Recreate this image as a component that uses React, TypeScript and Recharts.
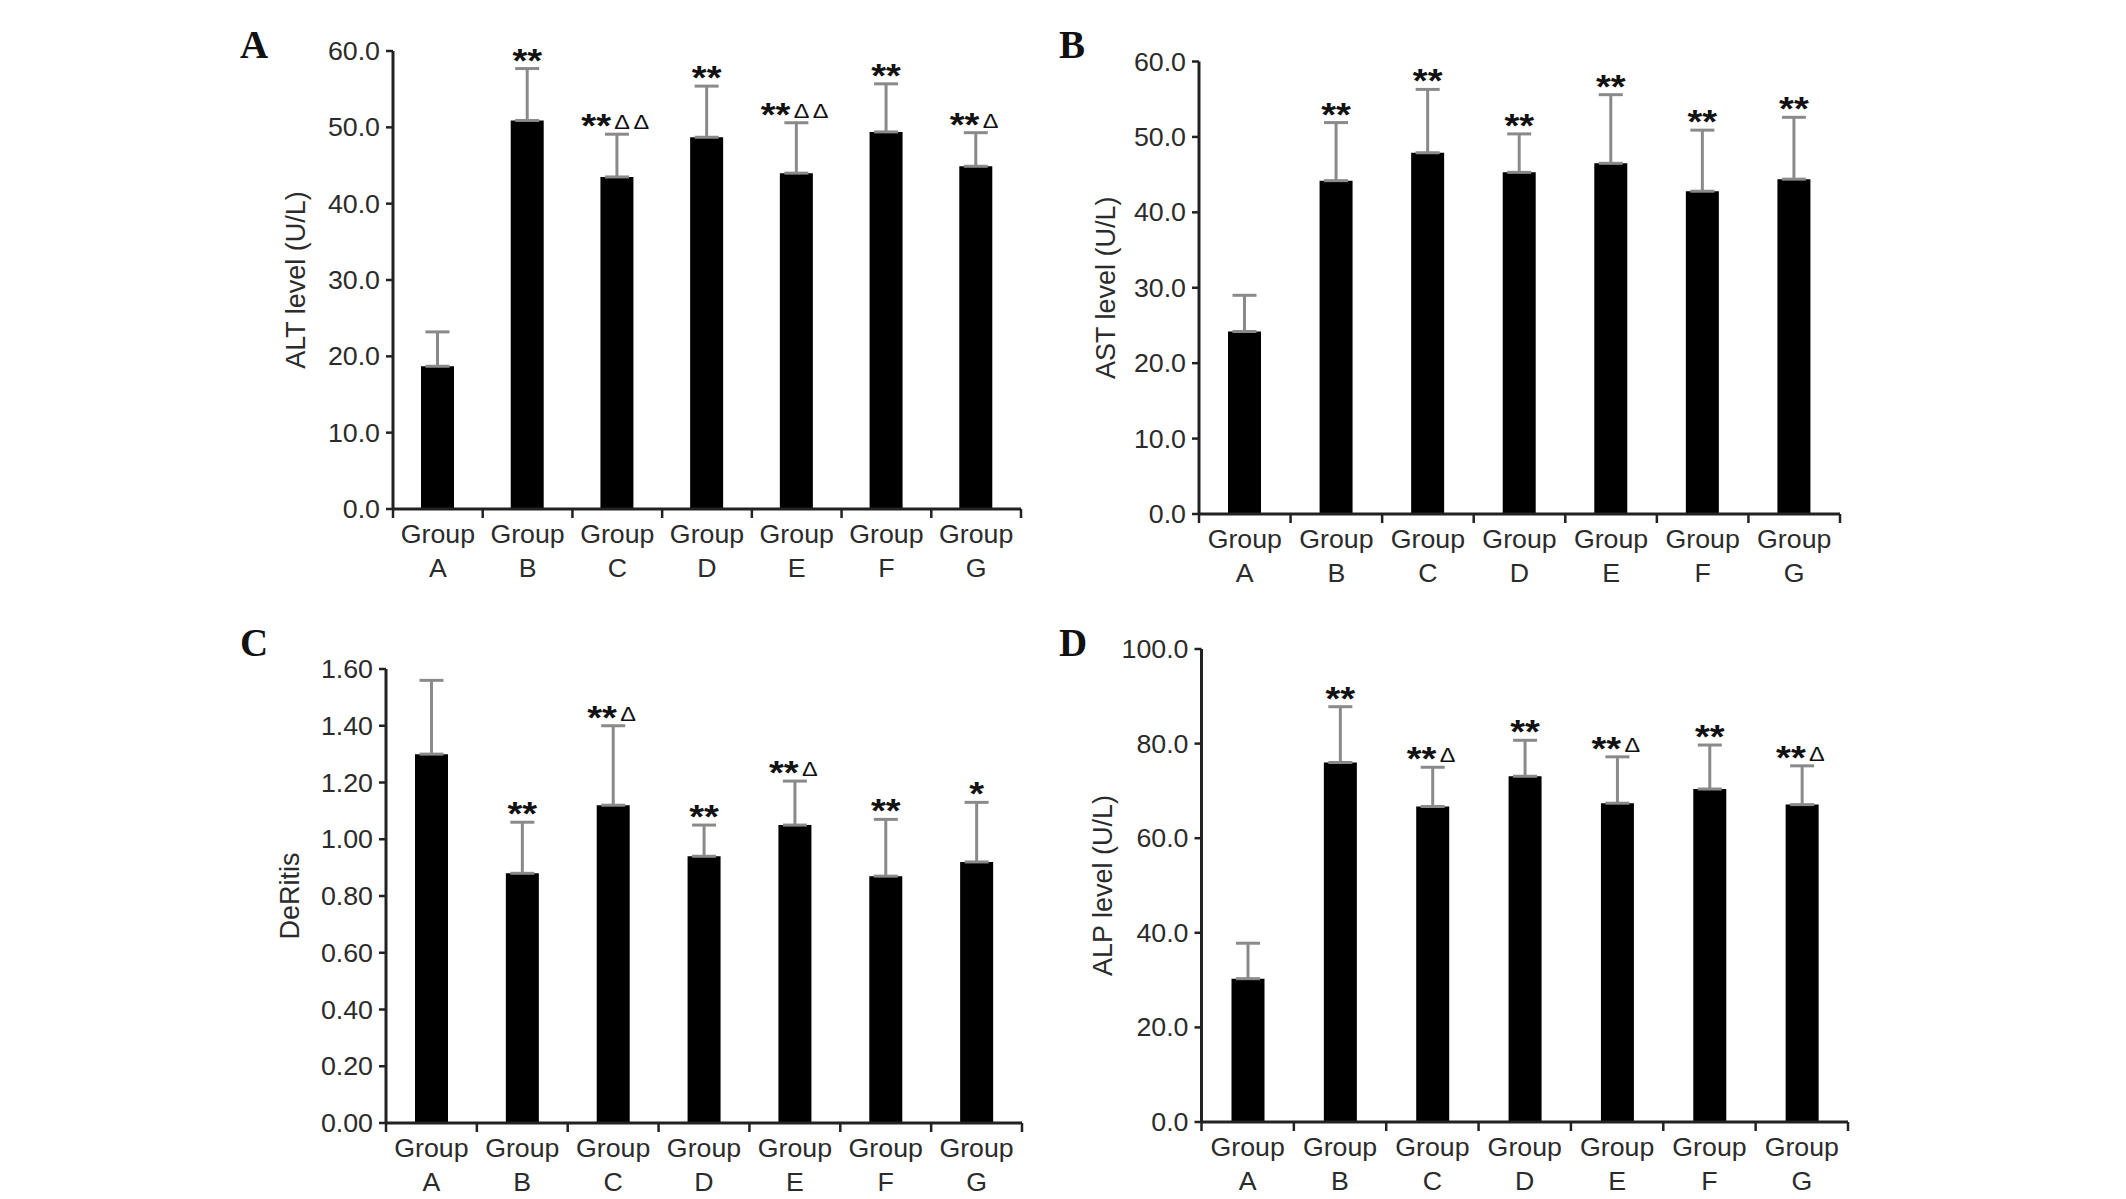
import React from "react"
import { ComposedChart, Bar, ErrorBar, XAxis, YAxis, LabelList } from "recharts"

const GROUPS = ["A", "B", "C", "D", "E", "F", "G"]

const ALT_MEAN = [18.7, 50.9, 43.5, 48.7, 44.0, 49.4, 44.9]
const ALT_SD = [4.5, 6.8, 5.6, 6.7, 6.6, 6.3, 4.4]
const ALT_NOTE = ["", "**", "**ΔΔ", "**", "**ΔΔ", "**", "**Δ"]
const ALT_TICKS = [0, 10, 20, 30, 40, 50, 60]

const AST_MEAN = [24.2, 44.2, 47.9, 45.3, 46.5, 42.8, 44.4]
const AST_SD = [4.8, 7.7, 8.4, 5.1, 9.1, 8.1, 8.2]
const AST_NOTE = ["", "**", "**", "**", "**", "**", "**"]
const AST_TICKS = [0, 10, 20, 30, 40, 50, 60]

const DER_MEAN = [1.3, 0.88, 1.12, 0.94, 1.05, 0.87, 0.92]
const DER_SD = [0.26, 0.18, 0.28, 0.11, 0.155, 0.2, 0.21]
const DER_NOTE = ["", "**", "**Δ", "**", "**Δ", "**", "*"]
const DER_TICKS = [0, 0.2, 0.4, 0.6, 0.8, 1.0, 1.2, 1.4, 1.6]

const ALP_MEAN = [30.3, 76.0, 66.7, 73.1, 67.4, 70.4, 67.1]
const ALP_SD = [7.5, 11.8, 8.3, 7.6, 9.8, 9.3, 8.2]
const ALP_NOTE = ["", "**", "**Δ", "**", "**Δ", "**", "**Δ"]
const ALP_TICKS = [0, 20, 40, 60, 80, 100]

const SANS = "'Liberation Sans', Arial, sans-serif"
const INK = "#2b2b2b"
const AXIS = "#222"

function YTick({ x, y, payload, digits }: any) {
  return (
    <g transform={`translate(${x},${y})`}>
      <text transform="scale(1.05,1)" textAnchor="end" dy={9} fontSize={25.5} fill={INK} fontFamily={SANS}>
        {Number(payload.value).toFixed(digits)}
      </text>
    </g>
  )
}

// category label in two lines, plus tick marks on the group boundaries
function XTick(props: any) {
  const { x, y, payload, index, visibleTicksCount } = props
  const half = payload.offset || 0
  const last = index === visibleTicksCount - 1
  return (
    <g transform={`translate(${x},${y})`}>
      <line x1={-half} y1={0} x2={-half} y2={9} stroke={AXIS} strokeWidth={2.5} />
      {last && <line x1={half} y1={0} x2={half} y2={9} stroke={AXIS} strokeWidth={2.5} />}
      <text transform="scale(1.07,1)" textAnchor="middle" fontSize={25} fill={INK} fontFamily={SANS}>
        <tspan x={0} y={34}>Group</tspan>
        <tspan x={0} y={68}>{payload.value}</tspan>
      </text>
    </g>
  )
}

function makeNote(means: number[], sds: number[]) {
  return (props: any) => {
    const vb = props.viewBox && props.viewBox.width != null ? props.viewBox : props
    const { x, y, width, height } = vb
    const i = props.index
    const note: string = props.value || ""
    if (!note || i == null) return null
    const errTop = y - (sds[i] * height) / means[i]
    const stars = note.replace(/Δ/g, "")
    const deltas = note.replace(/\*/g, "")
    return (
      <g transform={`translate(${x + width / 2},${errTop + 3})`}>
        <text transform="scale(1.12,1)" textAnchor="middle" fontFamily={SANS} fill="#111">
          <tspan fontSize={34} fontWeight="bold">{stars}</tspan>
          {deltas && (
            <tspan fontSize={21} dy={-8} dx={3} letterSpacing={3}>
              {deltas}
            </tspan>
          )}
        </text>
      </g>
    )
  }
}

type Plot = { l: number; t: number; r: number; b: number }

function Panel({
  means,
  sds,
  notes,
  ticks,
  digits,
  title,
  left,
  top,
  plot,
  titleX,
}: {
  means: number[]
  sds: number[]
  notes: string[]
  ticks: number[]
  digits: number
  title: string
  left: number
  top: number
  plot: Plot
  titleX: number
}) {
  const data = GROUPS.map((g, i) => ({ group: g, mean: means[i], err: [0, sds[i]], note: notes[i] }))
  const width = plot.r - left + 20
  const height = plot.b - top + 80

  return (
    <div style={{ position: "absolute", left, top, width, height }}>
      <ComposedChart
        width={width}
        height={height}
        data={data}
        margin={{ top: plot.t - top, right: 20, bottom: 0, left: 0 }}
      >
        <XAxis
          dataKey="group"
          type="category"
          interval={0}
          axisLine={{ stroke: AXIS, strokeWidth: 3 }}
          tickLine={false}
          tickSize={0}
          tickMargin={0}
          height={80}
          tick={XTick}
        />
        <YAxis
          type="number"
          domain={[0, ticks[ticks.length - 1]]}
          ticks={ticks}
          interval={0}
          width={plot.l - left}
          tickSize={7}
          tickMargin={6}
          axisLine={{ stroke: AXIS, strokeWidth: 3 }}
          tickLine={{ stroke: AXIS, strokeWidth: 2.5 }}
          tick={(p: any) => <YTick {...p} digits={digits} />}
          label={{
            value: title,
            angle: -90,
            position: "insideLeft",
            offset: titleX - left,
            style: { textAnchor: "middle", fontSize: 27, fill: INK, fontFamily: SANS },
          }}
        />
        <Bar dataKey="mean" fill="#000" barSize={33} isAnimationActive={false}>
          <ErrorBar dataKey="err" direction="y" width={12} stroke="#8a8a8a" strokeWidth={3} />
          <LabelList dataKey="note" content={makeNote(means, sds)} />
        </Bar>
      </ComposedChart>
    </div>
  )
}

const LETTER = { fontFamily: "'Liberation Serif', 'Times New Roman', serif", fontWeight: "bold" as const, fontSize: 39, fill: "#111" }

export default function App() {
  return (
    <div style={{ position: "absolute", left: 0, top: 0, width: 2126, height: 1199, background: "#fff" }}>
      <Panel
        means={ALT_MEAN}
        sds={ALT_SD}
        notes={ALT_NOTE}
        ticks={ALT_TICKS}
        digits={1}
        title="ALT level (U/L)"
        left={240}
        top={0}
        plot={{ l: 393, t: 51, r: 1021, b: 509 }}
        titleX={295}
      />
      <Panel
        means={AST_MEAN}
        sds={AST_SD}
        notes={AST_NOTE}
        ticks={AST_TICKS}
        digits={1}
        title="AST level (U/L)"
        left={1058}
        top={0}
        plot={{ l: 1199, t: 61.5, r: 1840, b: 514 }}
        titleX={1105}
      />
      <Panel
        means={DER_MEAN}
        sds={DER_SD}
        notes={DER_NOTE}
        ticks={DER_TICKS}
        digits={2}
        title="DeRitis"
        left={240}
        top={600}
        plot={{ l: 386, t: 669, r: 1022, b: 1123 }}
        titleX={289}
      />
      <Panel
        means={ALP_MEAN}
        sds={ALP_SD}
        notes={ALP_NOTE}
        ticks={ALP_TICKS}
        digits={1}
        title="ALP level (U/L)"
        left={1058}
        top={600}
        plot={{ l: 1201.5, t: 649, r: 1848, b: 1122 }}
        titleX={1102}
      />
      <svg width={2126} height={1199} style={{ position: "absolute", left: 0, top: 0, pointerEvents: "none" }}>
        <text x={240} y={58} {...LETTER}>A</text>
        <text x={1059} y={58} {...LETTER}>B</text>
        <text x={240} y={656} {...LETTER}>C</text>
        <text x={1059} y={656} {...LETTER}>D</text>
      </svg>
    </div>
  )
}
